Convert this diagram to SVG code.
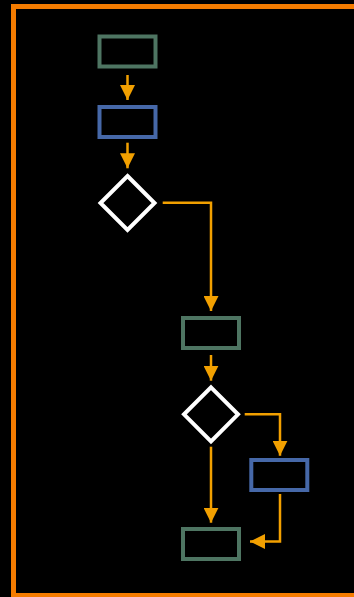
<svg xmlns="http://www.w3.org/2000/svg" width="354" height="597" viewBox="0 0 354 597">
<defs>
<style>
.proc{fill:none;stroke:#4e7562;stroke-width:4}
.io{fill:none;stroke:#4668a8;stroke-width:4}
.dec{fill:none;stroke:#ffffff;stroke-width:4}
.conn{fill:none;stroke:#f2a000;stroke-width:2.5;marker-end:url(#ah)}
</style>
<marker id="ah" viewBox="0 0 15 15" refX="15" refY="7.5" markerWidth="15" markerHeight="15" markerUnits="userSpaceOnUse" orient="auto">
<path d="M0,0 L15,7.5 L0,15 Z" fill="#f2a000"/>
</marker>
</defs>
<rect x="0" y="0" width="354" height="597" fill="#000"/>
<rect x="13.5" y="6.5" width="360" height="589" fill="none" stroke="#f57c00" stroke-width="5"/>
<g id="connectors">
<path class="conn" d="M127.5,75 V100"/>
<path class="conn" d="M127.5,142.7 V168.3"/>
<path class="conn" d="M162.7,202.7 H211 V311"/>
<path class="conn" d="M211,355 V380.7"/>
<path class="conn" d="M244.7,414.3 H280 V455.7"/>
<path class="conn" d="M211,446.7 V522.7"/>
<path class="conn" d="M280,494 V541.5 H250"/>
</g>
<g id="n1"><rect class="proc" x="99.5" y="36.5" width="56" height="30"/></g>
<g id="n2"><rect class="io" x="99.5" y="107" width="56" height="30"/></g>
<g id="n3"><polygon class="dec" points="127.5,176 154.5,203 127.5,230 100.5,203"/></g>
<g id="n4"><rect class="proc" x="183" y="318" width="56" height="30"/></g>
<g id="n5"><polygon class="dec" points="211,387.3 238,414.3 211,441.3 184,414.3"/></g>
<g id="n6"><rect class="io" x="251.3" y="460" width="56" height="30"/></g>
<g id="n7"><rect class="proc" x="183" y="529" width="56" height="30"/></g>
</svg>
